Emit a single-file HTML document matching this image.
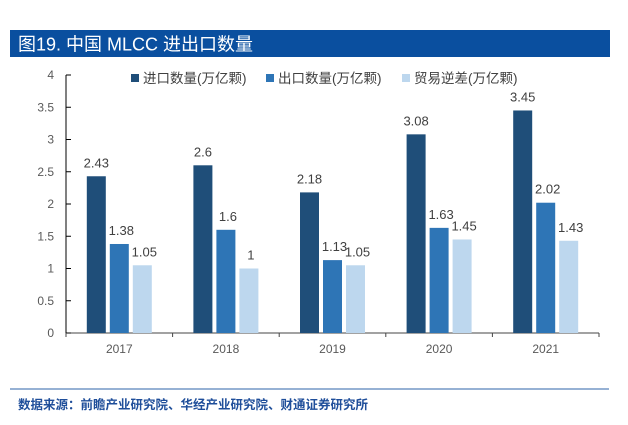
<!DOCTYPE html>
<html><head><meta charset="utf-8"><style>
body{margin:0;background:#fff;width:628px;height:420px;overflow:hidden;font-family:"Liberation Sans","Noto Sans CJK SC",sans-serif}
</style></head><body>
<svg width="628" height="420" id="svg" xmlns="http://www.w3.org/2000/svg">
<rect x="10" y="30" width="600" height="27" fill="#0a4f9f"/>
<text x="18" y="50.5" fill="#fff" font-size="18">图19. 中国 MLCC 进出口数量</text>
<line x1="10" y1="389" x2="609" y2="389" stroke="#2e63a8" stroke-width="1"/>
<text x="18" y="409" fill="#1f4e9a" font-size="12.5" font-weight="bold">数据来源：前瞻产业研究院、华经产业研究院、财通证券研究所</text>
<g id="legend"></g>
<g id="plot"></g>
</svg>
<script>
const categories=["2017","2018","2019","2020","2021"];
const importVals=[2.43,2.6,2.18,3.08,3.45];
const exportVals=[1.38,1.6,1.13,1.63,2.02];
const surplusVals=[1.05,1,1.05,1.45,1.43];
const yTicks=[0,0.5,1,1.5,2,2.5,3,3.5,4];
const yTickLabels=["0","0.5","1","1.5","2","2.5","3","3.5","4"];
const seriesNames=["进口数量(万亿颗)","出口数量(万亿颗)","贸易逆差(万亿颗)"];
const colors=["#1f4e79","#2e75b6","#bdd7ee"];
const NS="http://www.w3.org/2000/svg";
const plot=document.getElementById('plot'),legend=document.getElementById('legend');
const x0=66,x1=599,y0=333,yTop=75,yMax=4;
const y=v=>y0-(v/yMax)*(y0-yTop);
const band=(x1-x0)/categories.length;
function mk(tag,attrs,parent){const e=document.createElementNS(NS,tag);for(const k in attrs)e.setAttribute(k,attrs[k]);parent.appendChild(e);return e;}
let ax=mk('line',{x1:x0,y1:yTop,x2:x0,y2:y0,stroke:'#000','stroke-width':1},plot);


let bx=mk('line',{x1:x0,y1:y0,x2:x1,y2:y0,stroke:'#444','stroke-width':1},plot);


yTicks.forEach((t,i)=>{
  const tk=mk('line',{x1:x0,y1:y(t),x2:x0+5,y2:y(t),stroke:'#000'},plot);
  
  
  const tl=mk('text',{x:54,y:y(t)+4,'text-anchor':'end','font-size':12,fill:'#595959'},plot);
  tl.textContent=yTickLabels[i];
  
  
});
for(let i=0;i<=categories.length;i++){
  const xx=x0+band*i;
  const tk=mk('line',{x1:xx,y1:y0,x2:xx,y2:y0+4,stroke:'#444'},plot);
  
  
}
const series=[importVals,exportVals,surplusVals];
const bw=19,step=23;
categories.forEach((c,i)=>{
  const cx=x0+band*(i+0.5);
  const lab=mk('text',{x:cx,y:y0+20,'text-anchor':'middle','font-size':12,fill:'#595959'},plot);
  lab.textContent=c;
  
  
  series.forEach((s,j)=>{
    const bxp=cx-bw/2+(j-1)*step;
    const r=mk('rect',{x:bxp,y:y(s[i]),width:bw,height:y0-y(s[i]),fill:colors[j]},plot);
    
    
    const vl=mk('text',{x:bxp+bw/2+(j===0?0:2),y:y(s[i])-9,'text-anchor':'middle','font-size':13,fill:'#404040'},plot);
    vl.textContent=String(s[i]);
    
    
  });
});
const lx=[131,266,402];
seriesNames.forEach((n,j)=>{
  const sw=mk('rect',{x:lx[j],y:74,width:8,height:8,fill:colors[j]},legend);
  
  
  const t=mk('text',{x:lx[j]+12,y:83,'font-size':13.5,fill:'#404040'},legend);
  t.textContent=n;
  
  
});
</script>
</body></html>
